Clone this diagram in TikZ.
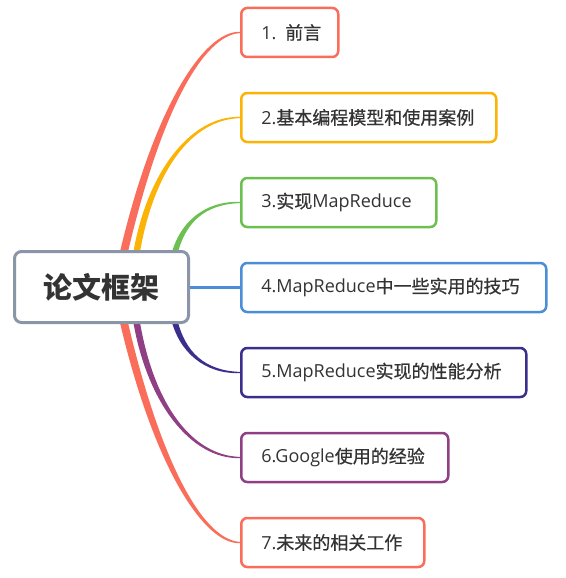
\documentclass[tikz,border=0pt]{standalone}
\usepackage{fontspec}
\setmainfont{Open Sans}
\newfontfamily\cjk{Noto Sans CJK SC}[FakeBold=0.6]
\newfontfamily\cjkhub{Noto Sans CJK SC}
\usetikzlibrary{calc}
\definecolor{cred}{HTML}{F96D5A}
\definecolor{corange}{HTML}{FBB305}
\definecolor{cgreen}{HTML}{6CC04F}
\definecolor{cblue}{HTML}{4A8ED8}
\definecolor{cindigo}{HTML}{3B2F8E}
\definecolor{cpurple}{HTML}{903F84}
\definecolor{cgrey}{HTML}{8A96A8}
\definecolor{ctext}{HTML}{333333}
\newcommand\twig[8]{\fill[#1] ($(#2)+(-#3,0)$) .. controls ($(#4)+(-#3,0)$) and ($(#5)+(0,#7*#3)$) .. ($(#6)+(0,#7)$) -- ($(#6)+(0,#8)$) .. controls ($(#5)+(0,#8*#3)$) and ($(#4)+(#3,0)$) .. ($(#2)+(#3,0)$) -- cycle;}
\begin{document}
\begin{tikzpicture}[x=1pt,y=-1pt,
  box/.style={draw=#1, line width=2.5pt, rounded corners=6pt, fill=white, anchor=west,
    minimum height=49pt, inner xsep=20pt, inner ysep=0pt, align=left, text=ctext,
    font=\fontsize{18}{21}\selectfont},
  hub/.style={draw=cgrey, line width=3pt, rounded corners=7pt, fill=white,
    minimum width=174pt, minimum height=71pt, text=ctext,
    font=\cjkhub\bfseries\fontsize{29}{34}\selectfont}]
\useasboundingbox (0,0) rectangle (565,578);
\node[box=cred, text width=57pt] (n1) at (240,32.5) {\mbox{1. {\cjk 前言}}};
\node[box=corange, text width=215pt] (n2) at (240,117.5) {2.{\cjk 基本编程模型和使用案例}};
\node[box=cgreen, text width=155pt] (n3) at (240,202.5) {3.{\cjk 实现}MapReduce};
\node[box=cblue, text width=265pt] (n4) at (240,287.5) {4.MapReduce{\cjk 中一些实用的技巧}};
\node[box=cindigo, text width=245pt] (n5) at (240,372.5) {5.MapReduce{\cjk 实现的性能分析}};
\node[box=cpurple, text width=167pt] (n6) at (240,457.5) {6.Google{\cjk 使用的经验}};
\node[box=cred, text width=143pt] (n7) at (240,542.5) {7.{\cjk 未来的相关工作}};
\coordinate (rA) at (123,256);
\coordinate (rB) at (136,256);
\coordinate (rC) at (174,256);
\coordinate (rE) at (174,318.5);
\coordinate (rF) at (136,318.5);
\coordinate (rG) at (123,318.5);
\coordinate (rD) at (185,287.5);
\twig{cred}{rA}{4}{158,105}{205,32.5}{n1.west}{-0.6}{0.6}
\twig{corange}{rB}{3.3}{150,170}{192,117.5}{n2.west}{-0.6}{0.6}
\twig{cgreen}{rC}{3}{182,222}{205,202.5}{n3.west}{-0.6}{0.6}
\twig{cindigo}{rE}{3}{182,352.5}{205,372.5}{n5.west}{0.6}{-0.6}
\twig{cpurple}{rF}{3.3}{150,404.5}{192,457.5}{n6.west}{0.6}{-0.6}
\twig{cred}{rG}{4}{158,469.5}{205,542.5}{n7.west}{0.6}{-0.6}
\draw[cblue, line width=3pt] (rD) -- (n4.west);
\node[hub] (c) at (101.5,287) {论文框架};
\end{tikzpicture}
\end{document}
